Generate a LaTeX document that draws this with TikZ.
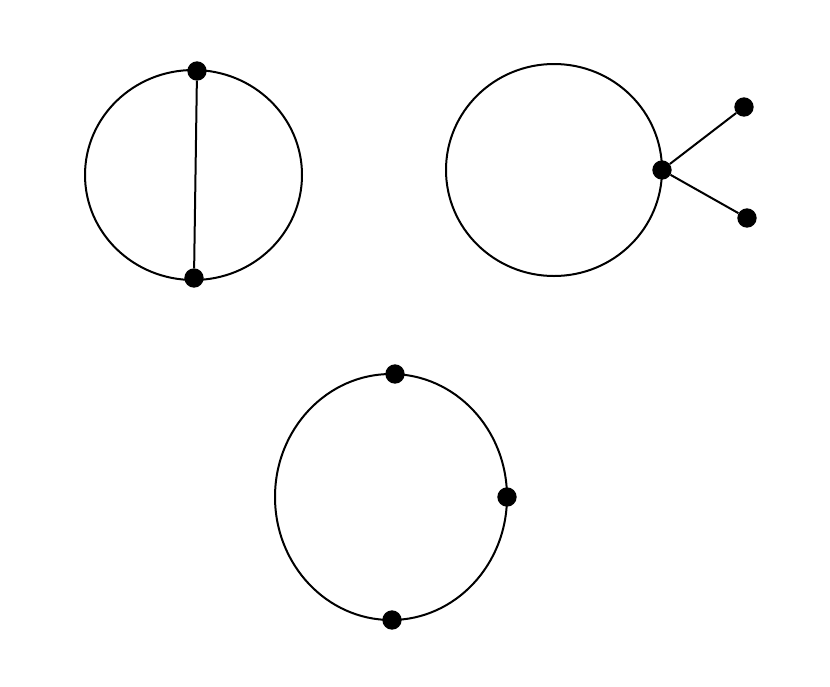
\documentclass[tikz,border=0pt]{standalone}
\begin{document}
\begin{tikzpicture}[x=0.03cm,y=-0.03cm,
  dot/.style={circle,fill=black,inner sep=0pt,minimum size=0.58cm},
  ring/.style={draw=black,line width=0.06cm},
  edge/.style={draw=black,line width=0.06cm}]
\useasboundingbox[fill=white] (0,0) rectangle (830,686);
% first circle
\draw[ring] (193.5,175) ellipse [x radius=108.5, y radius=105];
\node[dot] (a1) at (197,71) {};
\node[dot] (a2) at (194,278) {};
\draw[edge] (a1) -- (a2);
% second circle
\draw[ring] (554,170) ellipse [x radius=108, y radius=106];
\node[dot] (b0) at (662,170) {};
\node[dot] (b1) at (744,107) {};
\node[dot] (b2) at (747,218) {};
\draw[edge] (b0) -- (b1);
\draw[edge] (b0) -- (b2);
% third circle
\draw[ring] (391,497) ellipse [x radius=116, y radius=123];
\node[dot] (c1) at (395,374) {};
\node[dot] (c2) at (507,497) {};
\node[dot] (c3) at (392,620) {};
\end{tikzpicture}
\end{document}
